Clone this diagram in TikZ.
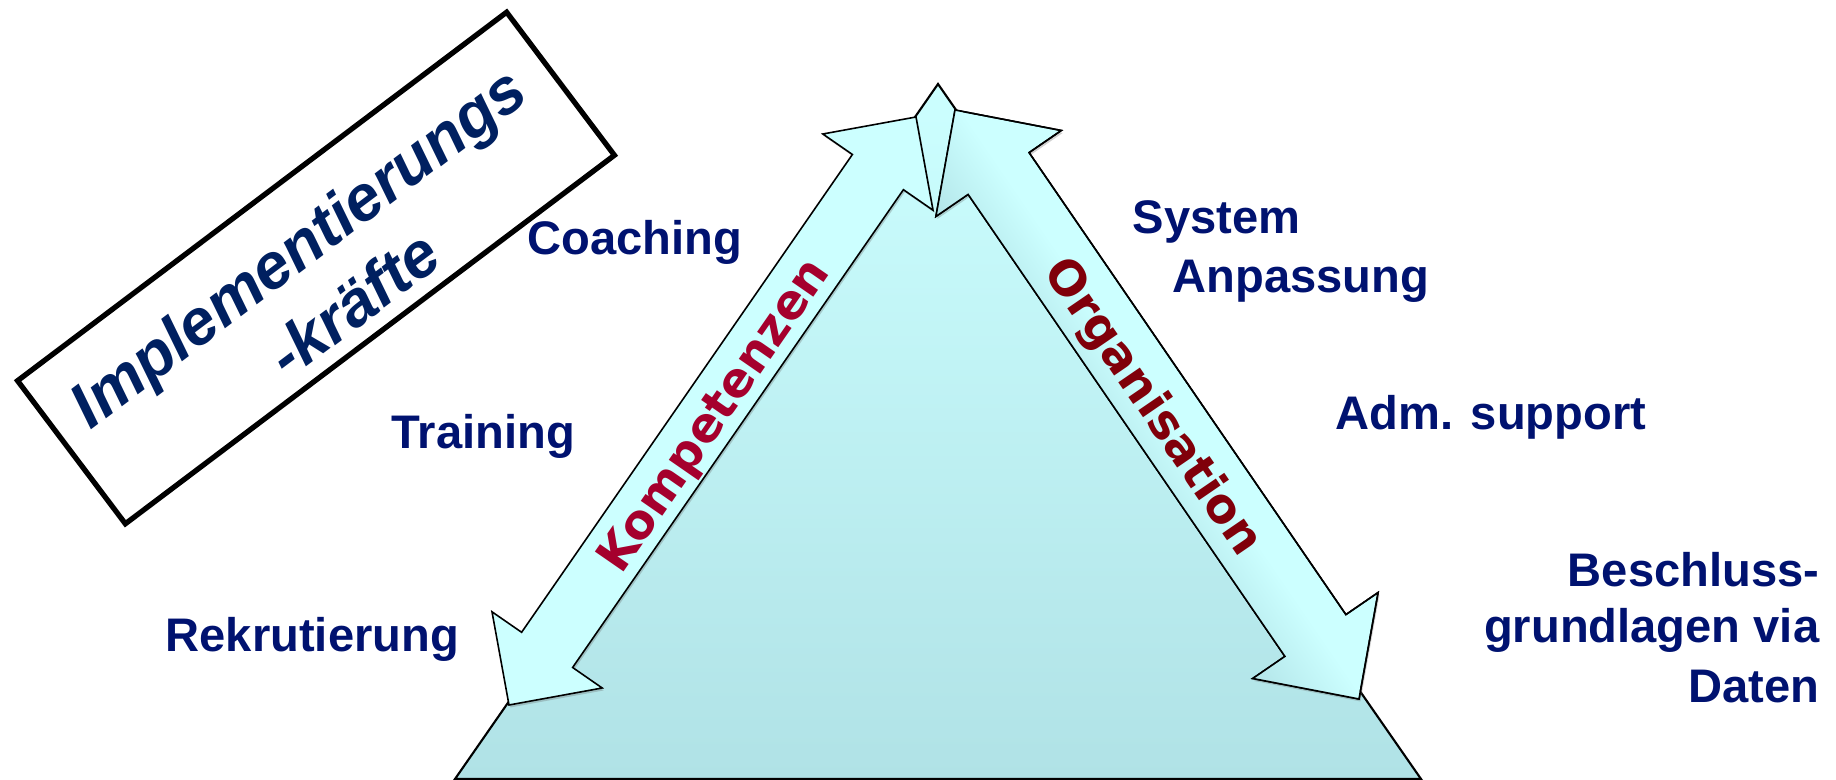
\documentclass[tikz,border=0pt]{standalone}
\usepackage{fontspec}
\setmainfont{Liberation Sans}
\newfontfamily\dvs{DejaVu Sans}
\usetikzlibrary{shadows}
\definecolor{cyanL}{RGB}{204,255,255}
\definecolor{cyanD}{RGB}{176,226,230}
\definecolor{navy}{RGB}{0,18,112}
\definecolor{boxblue}{RGB}{0,32,96}
\definecolor{kred}{RGB}{165,0,45}
\definecolor{ored}{RGB}{128,0,10}
\begin{document}
\begin{tikzpicture}[x=0.01cm,y=-0.01cm,
  lbl/.style={font=\fontsize{13.4pt}{16pt}\selectfont\bfseries, text=navy, inner sep=0pt},
  rotlbl/.style={font=\dvs\fontsize{13.6pt}{15pt}\selectfont\bfseries, inner sep=0pt},
  arrowshape/.style={draw=black, line width=0.45pt, line join=miter, fill=cyanL,
    drop shadow={shadow xshift=0.4pt, shadow yshift=-0.7pt, opacity=0.3, fill=black!60}},
  tri/.style={draw=black, line width=0.6pt, top color=cyanL, bottom color=cyanD},
  framebox/.style={draw=black, line width=1.5pt, rotate=37, minimum width=6.12cm, minimum height=1.79cm, inner sep=0pt},
  boxlabel/.style={font=\fontsize{18.2pt}{22.5pt}\selectfont\bfseries\itshape, text=boxblue, align=center, rotate=37, inner sep=0pt}
]
\useasboundingbox (0,0) rectangle (1836,780);

% base triangle
\coordinate (apex) at (938,84);
\coordinate (bl) at (455,779);
\coordinate (br) at (1421,779);
\path[tri] (apex) -- (br) -- (bl) -- cycle;

% right arrow (Organisation)
\path[arrowshape] (955,110) -- (1061.3,130.5) -- (1029.1,152.6) -- (1345.9,614.6) -- (1378.1,592.5)
  -- (1359,699) -- (1252.7,678.5) -- (1284.9,656.4) -- (968.1,194.4) -- (935.9,216.5) -- cycle;
\begin{scope}
  \clip (955,110) -- (1061.3,130.5) -- (1029.1,152.6) -- (1345.9,614.6) -- (1378.1,592.5)
  -- (1359,699) -- (1252.7,678.5) -- (1284.9,656.4) -- (968.1,194.4) -- (935.9,216.5) -- cycle;
  \begin{scope}[transform canvas={shift={(955,110)}, rotate=34.4}]
    \shade[left color=cyanD, right color=cyanL] (-85,-30) rectangle (5,760);
  \end{scope}
\end{scope}
\draw[line width=0.45pt, line join=miter] (955,110) -- (1061.3,130.5) -- (1029.1,152.6) -- (1345.9,614.6) -- (1378.1,592.5)
  -- (1359,699) -- (1252.7,678.5) -- (1284.9,656.4) -- (968.1,194.4) -- (935.9,216.5) -- cycle;

% left arrow (Kompetenzen)
\path[arrowshape] (509,705) -- (492.0,611.8) -- (521.6,632.3) -- (852.4,154.5) -- (822.8,134.0)
  -- (916,117) -- (933,210.2) -- (903.4,189.7) -- (572.6,667.5) -- (602.2,688.0) -- cycle;

% arrow labels
\node[rotlbl, text=kred, rotate=55.3] (komp) at (716,417) {Kompetenzen};
\node[rotlbl, text=ored, rotate=-55.6] (org) at (1152,408) {Organisation};

% framed title
\node[framebox] (box) at (316,268) {};
\node[boxlabel] (impl) at ([shift={(5,10)}]box.center) {Implementierungs\\\hspace*{6pt}-kräfte};

% side labels
\node[lbl, anchor=base west] (coach) at (527,255) {Coaching};
\node[lbl, anchor=base west] (train) at (391,449) {Training};
\node[lbl, anchor=base west] (rekr) at (165,652) {Rekrutierung};
\node[lbl, anchor=base west] (sys1) at (1132,234) {System};
\node[lbl, anchor=base west] (sys2) at (1172,293) {Anpassung};
\node[lbl, anchor=base west] (adm) at (1335,430) {Adm. support};
\node[lbl, anchor=base east] (bes1) at (1820,587) {Beschluss-};
\node[lbl, anchor=base east] (bes2) at (1820,643) {grundlagen via};
\node[lbl, anchor=base east] (bes3) at (1820,703) {Daten};
\end{tikzpicture}
\end{document}
